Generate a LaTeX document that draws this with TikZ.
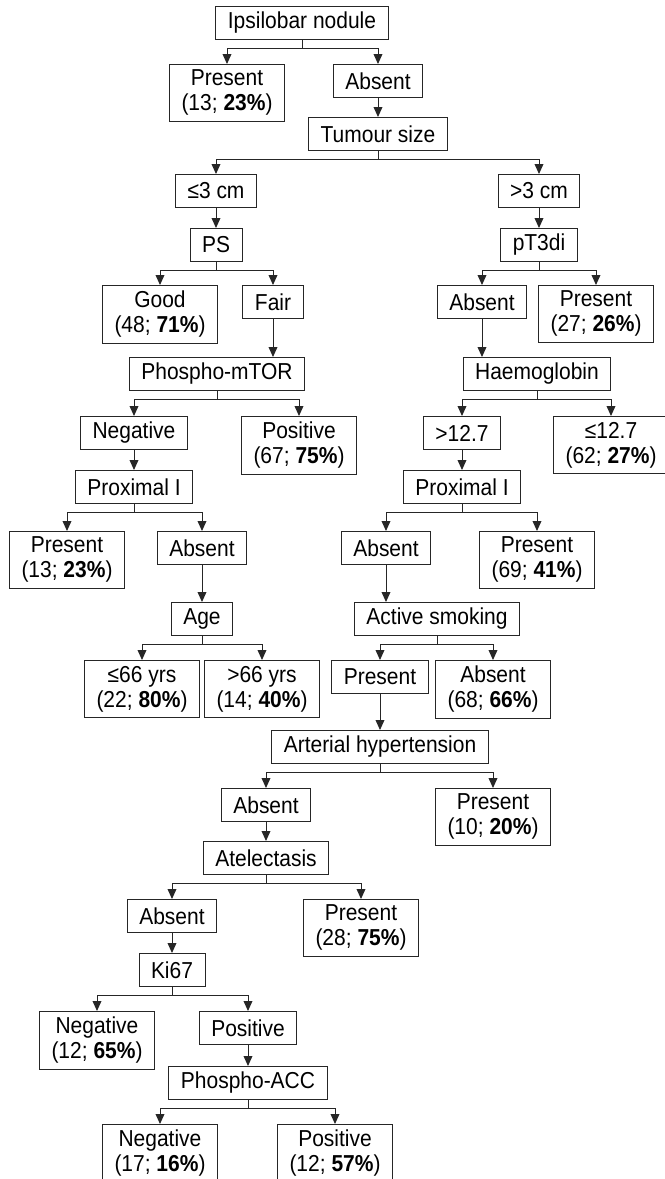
\documentclass[tikz,border=0pt]{standalone}
\usepackage{fontspec}
\setmainfont{Liberation Sans}[FakeStretch=0.91]
\usetikzlibrary{arrows.meta}

\begin{document}
\begin{tikzpicture}[x=0.025cm,y=-0.025cm,>={Triangle[length=0.25cm,width=0.22cm]},font=\fontsize{16.4pt}{17.8pt}\selectfont]
\tikzstyle{b}=[draw=black!85,line width=0.7pt,align=center,anchor=north,inner xsep=0.3cm,inner ysep=0.1375cm,minimum height=0.825cm]
\tikzstyle{lnk}=[draw=black!85,line width=0.7pt]
\useasboundingbox (0,0) rectangle (665,1179);
% top of the tree
\node[b] (ipsi) at (302,6) {Ipsilobar nodule};
\node[b] (nodP) at (227,64) {Present\\(13; \textbf{23\%})}; \node[b] (nodA) at (378,64) {Absent};
\node[b] (size) at (378,117) {Tumour size};
\node[b] (small) at (216,174) {≤3 cm}; \node[b] (large) at (539,174) {>3 cm};
\node[b] (ps) at (216,228) {PS}; \node[b] (pt) at (539,228) {pT3di};
\node[b] (good) at (160,285) {Good\\(48; \textbf{71\%})}; \node[b] (fair) at (273,285) {Fair};
\node[b] (ptA) at (482,285) {Absent}; \node[b] (ptP) at (596,285) {Present\\(27; \textbf{26\%})};
\node[b] (mtor) at (217,357) {Phospho-mTOR}; \node[b] (hb) at (537,357) {Haemoglobin};
\node[b] (mneg) at (134,416) {Negative}; \node[b] (mpos) at (299,416) {Positive\\(67; \textbf{75\%})};
\node[b] (hbhi) at (462,416) {>12.7}; \node[b] (hblo) at (611,416) {≤12.7\\(62; \textbf{27\%})};
\node[b] (prxL) at (134,470) {Proximal I}; \node[b] (prxR) at (462,470) {Proximal I};
\node[b] (prxLP) at (67,531) {Present\\(13; \textbf{23\%})}; \node[b] (prxLA) at (202,531) {Absent};
\node[b] (prxRA) at (386,531) {Absent}; \node[b] (prxRP) at (537,531) {Present\\(69; \textbf{41\%})};
\node[b] (age) at (202,602) {Age}; \node[b] (smk) at (437,602) {Active smoking};
\node[b] (ageY) at (142,660) {≤66 yrs\\(22; \textbf{80\%})}; \node[b] (ageO) at (262,660) {>66 yrs\\(14; \textbf{40\%})};
\node[b] (smkP) at (380,660) {Present}; \node[b] (smkA) at (493,660) {Absent\\(68; \textbf{66\%})};
% lower part
\node[b] (hyp) at (380,730) {Arterial hypertension};
\node[b] (hypA) at (266,788) {Absent}; \node[b] (hypP) at (493,788) {Present\\(10; \textbf{20\%})};
\node[b] (atel) at (266,841) {Atelectasis};
\node[b] (atelA) at (172,899) {Absent}; \node[b] (atelP) at (361,899) {Present\\(28; \textbf{75\%})};
\node[b] (ki) at (172,953) {Ki67};
\node[b] (kiN) at (97,1011) {Negative\\(12; \textbf{65\%})}; \node[b] (kiP) at (248,1011) {Positive};
\node[b] (acc) at (248,1066) {Phospho-ACC};
\node[b] (accN) at (160,1124) {Negative\\(17; \textbf{16\%})}; \node[b] (accP) at (335,1124) {Positive\\(12; \textbf{57\%})};
% splits
\foreach \p/\c in {ipsi/nodP,ipsi/nodA,size/small,size/large,ps/good,ps/fair,pt/ptA,pt/ptP,mtor/mneg,mtor/mpos,hb/hbhi,hb/hblo,prxL/prxLP,prxL/prxLA,prxR/prxRA,prxR/prxRP,age/ageY,age/ageO,smk/smkP,smk/smkA,hyp/hypA,hyp/hypP,atel/atelA,atel/atelP,ki/kiN,ki/kiP,acc/accN,acc/accP}
  \draw[lnk,->] (\p.south) -- ++(0,8) -| (\c.north);
% straight links
\foreach \p/\c in {nodA/size,small/ps,large/pt,fair/mtor,ptA/hb,mneg/prxL,hbhi/prxR,prxLA/age,prxRA/smk,smkP/hyp,hypA/atel,atelA/ki,kiP/acc}
  \draw[lnk,->] (\p.south) -- (\p.south |- \c.north);
\end{tikzpicture}
\end{document}
